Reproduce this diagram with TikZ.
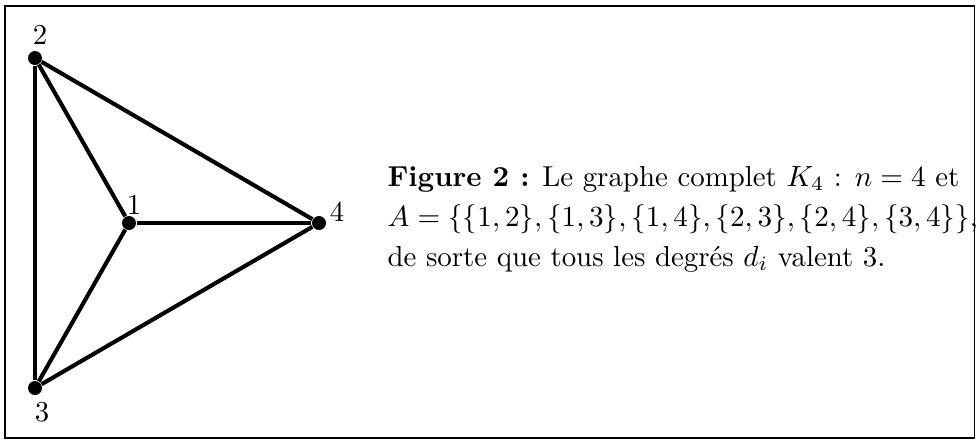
\documentclass[tikz,border=0pt]{standalone}
\begin{document}
\begin{tikzpicture}[x=0.343pt,y=-0.343pt,
  vertex/.style={circle,fill=black,inner sep=0pt,minimum size=4.8pt},
  edge/.style={line width=1.4pt},
  lbl/.style={inner sep=0pt,font=\fontsize{9.9pt}{13.7pt}\selectfont},
  capline/.style={anchor=base west,inner sep=0pt,font=\fontsize{9.9pt}{13.7pt}\selectfont}]
\useasboundingbox (0,0) rectangle (976,440);
\draw[line width=0.4pt] (5,6) rectangle (974.5,438);
\node[vertex] (v2) at (35,58) {};
\node[vertex] (v1) at (129,223) {};
\node[vertex] (v4) at (319,223) {};
\node[vertex] (v3) at (35,388) {};
\draw[edge] (v2) -- (v3);
\draw[edge] (v2) -- (v1);
\draw[edge] (v2) -- (v4);
\draw[edge] (v1) -- (v4);
\draw[edge] (v1) -- (v3);
\draw[edge] (v3) -- (v4);
\node[lbl] (l2) at (40,35) {2};
\node[lbl] (l1) at (134,205) {1};
\node[lbl] (l4) at (337,212) {4};
\node[lbl] (l3) at (42,412) {3};
\node[capline] (c1) at (387,186) {\textbf{Figure 2 :} Le graphe complet $K_4$ : $n=4$ et};
\node[capline] (c2) at (387,226.5) {$A=\{\{1,2\},\{1,3\},\{1,4\},\{2,3\},\{2,4\},\{3,4\}\}$,};
\node[capline] (c3) at (387,266) {de sorte que tous les degrés $d_i$ valent 3.};
\end{tikzpicture}
\end{document}
